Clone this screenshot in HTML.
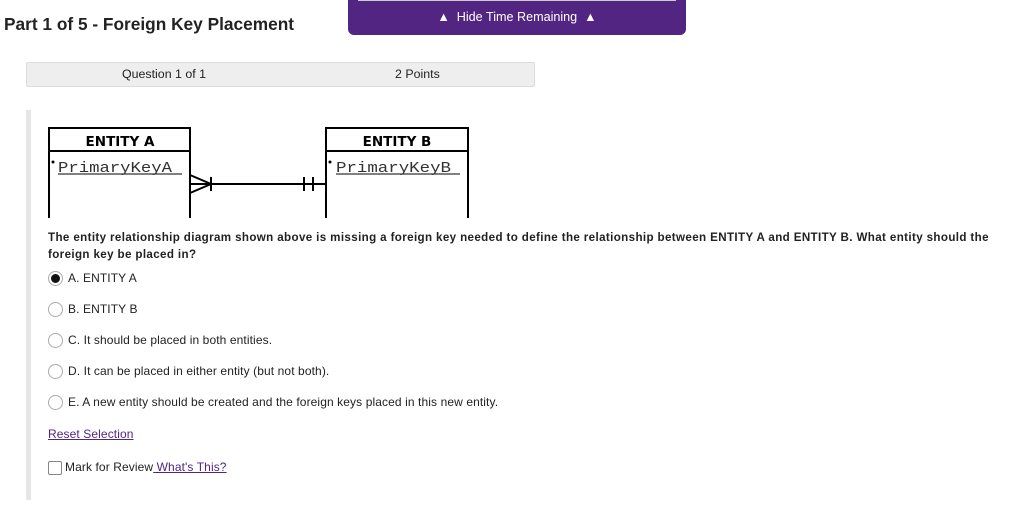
<!DOCTYPE html>
<html><head><style>
body{margin:0;width:1024px;height:508px;background:#fff;position:relative;font-family:"Liberation Sans",sans-serif;overflow:hidden;color:#222}
.a{position:absolute;white-space:nowrap}
.r{position:absolute;width:13px;height:13px;border:1px solid #aaa;border-radius:50%;background:#fff}
.t{font-size:12px;letter-spacing:0.1px}
</style></head><body>
<div class="a" style="left:4px;top:14px;font-size:17.3px;font-weight:bold;color:#222">Part 1 of 5 - Foreign Key Placement</div>
<div class="a" style="left:348px;top:0;width:338px;height:35px;background:#522583;border-radius:0 0 6px 6px"></div>
<div class="a" style="left:358px;top:0;width:318px;height:1px;background:#ccc"></div>
<div class="a" style="left:348px;top:10px;width:338px;text-align:center;color:#fff;font-size:12.6px">▲&nbsp;&nbsp;Hide Time Remaining&nbsp;&nbsp;▲</div>
<div class="a" style="left:26px;top:62px;width:507px;height:23px;background:#eee;border:1px solid #ddd;border-radius:2px"></div>
<div class="a t" style="left:122px;top:67px;font-size:12.4px;letter-spacing:0">Question 1 of 1</div>
<div class="a t" style="left:395px;top:67px;font-size:12.4px;letter-spacing:0">2 Points</div>
<div class="a" style="left:26px;top:110px;width:5px;height:390px;background:#e6e6e6"></div>
<svg class="a" style="left:0;top:0" width="1024" height="508">
<g stroke="#000" stroke-width="2" fill="none">
<path d="M49,218 V128 H190 V218 M49,151 H190"/>
<path d="M326,218 V128 H468 V218 M326,151 H468"/>
<path d="M190,184 H326 M190,175 L211,184 L190,193 M211,177 V191 M304,177 V191 M313,177 V191"/>
</g>
<g stroke="#000" stroke-width="1"><path d="M58,174 H182 M336,174 H460"/></g>
<text x="120" y="146" font-family="DejaVu Sans,sans-serif" font-weight="bold" font-size="13.5" text-anchor="middle">ENTITY A</text>
<text x="397" y="146" font-family="DejaVu Sans,sans-serif" font-weight="bold" font-size="13.5" text-anchor="middle">ENTITY B</text>
<circle cx="53" cy="162" r="1.5" fill="#000"/><text x="58" y="172" font-family="Liberation Mono,monospace" font-size="15" fill="#333" textLength="114" lengthAdjust="spacingAndGlyphs">PrimaryKeyA</text>
<circle cx="330" cy="162" r="1.5" fill="#000"/><text x="336" y="172" font-family="Liberation Mono,monospace" font-size="15" fill="#333" textLength="115" lengthAdjust="spacingAndGlyphs">PrimaryKeyB</text>
</svg>
<div class="a" style="left:48px;top:229px;font-size:11.6px;font-weight:bold;line-height:17px;width:950px;white-space:normal;letter-spacing:0.37px">The entity relationship diagram shown above is missing a foreign key needed to define the relationship between ENTITY A and ENTITY B. What entity should the foreign key be placed in?</div>
<div class="r" style="left:48px;top:271px"></div><div class="a" style="left:51px;top:274px;width:9px;height:9px;border-radius:50%;background:#111"></div>
<div class="a t" style="left:68px;top:271px">A. ENTITY A</div>
<div class="r" style="left:48px;top:302px"></div><div class="a t" style="left:68px;top:302px">B. ENTITY B</div>
<div class="r" style="left:48px;top:333px"></div><div class="a t" style="left:68px;top:333px">C. It should be placed in both entities.</div>
<div class="r" style="left:48px;top:364px"></div><div class="a t" style="left:68px;top:364px">D. It can be placed in either entity (but not both).</div>
<div class="r" style="left:48px;top:395px"></div><div class="a t" style="left:68px;top:395px">E. A new entity should be created and the foreign keys placed in this new entity.</div>
<div class="a t" style="left:48px;top:427px;color:#522583;text-decoration:underline">Reset Selection</div>
<div class="a" style="left:48px;top:461px;width:12px;height:12px;border:1px solid #888;border-radius:2px"></div>
<div class="a t" style="left:65px;top:460px">Mark for Review<span style="color:#522583;text-decoration:underline"> What's This?</span></div>
</body></html>
